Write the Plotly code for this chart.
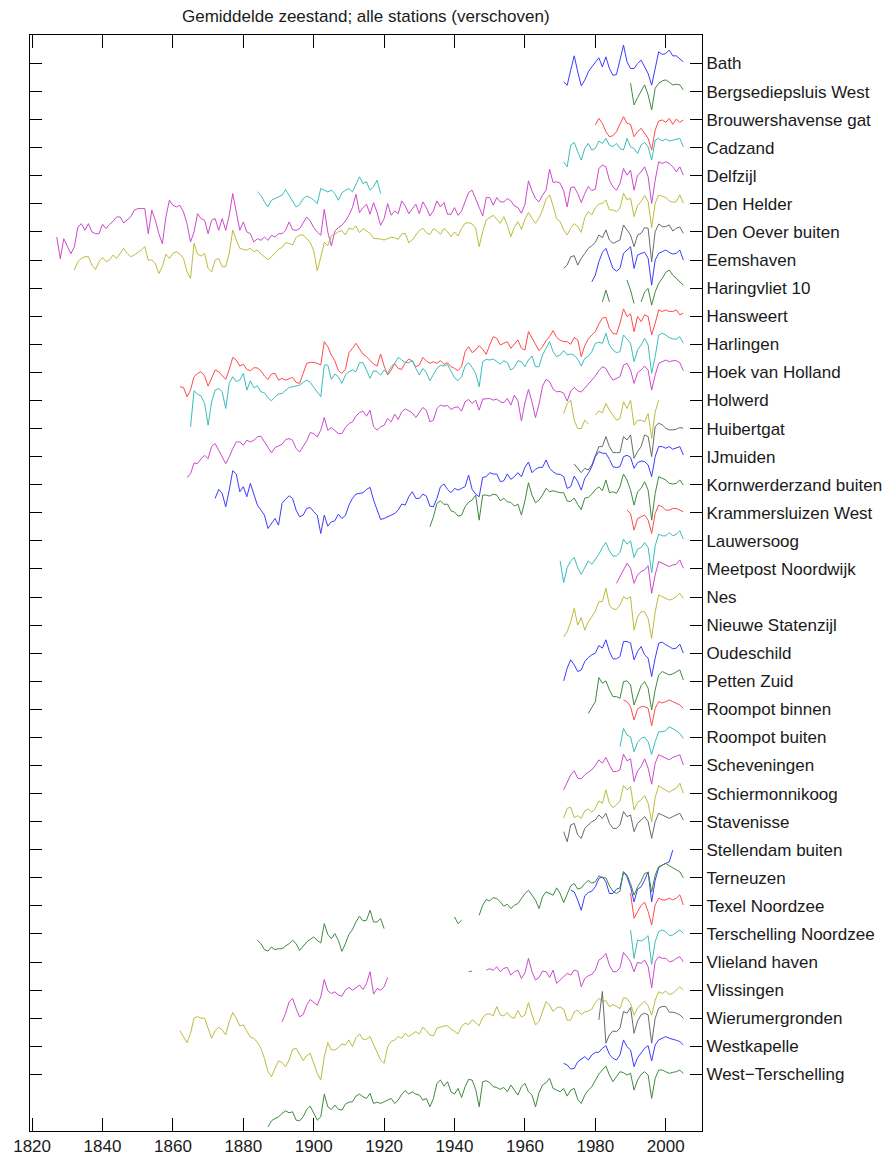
import plotly.graph_objects as go

# Station names, top to bottom
stations = [
    "Bath", "Bergsediepsluis West", "Brouwershavense gat", "Cadzand", "Delfzijl",
    "Den Helder", "Den Oever buiten", "Eemshaven", "Haringvliet 10", "Hansweert",
    "Harlingen", "Hoek van Holland", "Holwerd", "Huibertgat", "IJmuiden",
    "Kornwerderzand buiten", "Krammersluizen West", "Lauwersoog", "Meetpost Noordwijk",
    "Nes", "Nieuwe Statenzijl", "Oudeschild", "Petten Zuid", "Roompot binnen",
    "Roompot buiten", "Scheveningen", "Schiermonnikoog", "Stavenisse",
    "Stellendam buiten", "Terneuzen", "Texel Noordzee", "Terschelling Noordzee",
    "Vlieland haven", "Vlissingen", "Wierumergronden", "Westkapelle", "West\u2212Terschelling",
]

# Annual mean sea level per station (mm), each list starts at the given year
bath = [-55, -65, -20, 23, -25, -67, -50, -25, -10, 5, 17, -10, 20, -15, -35, -33, 10, 55, 5, -15,
        -15, 0, 10, -10, -30, -65, -15, 35, 27, 30, 40, 23, 23, 13, 5]
bath_start = 1971

bergsediepsluis = [25, -40, -18, 0, 20, -10, -55, 10, 25, 32, 35, 28, 20, 22, 20, 5]
bergsediepsluis_start = 1990

brouwershavense = [-16, 4, -11, -36, -51, -48, -36, -11, 9, -11, -14, -51, -36, -26, -41, -56, -91,
                   -31, -4, -1, -8, 4, -14, 2, -8, -1]
brouwershavense_start = 1980

cadzand_early = [-132, -142, -162, -177, -157, -152, -147, -142, -125, -142, -162, -177, -170, -152,
                 -145, -149, -157, -167, -122, -127, -132, -127, -137, -157, -135, -127, -122, -132,
                 -107, -87, -107, -102, -127, -117, -97, -137]
cadzand_early_start = 1884
cadzand = [-42, -57, 8, 16, -12, -37, -2, 13, -7, -2, 20, 13, 28, 8, 3, 13, -2, -7, 28, 3, -2, -17,
           8, 16, 3, -37, 23, 28, 20, 26, 20, 23, 26, 28, 3]
cadzand_start = 1971

delfzijl = [
    -183, -248, -188, -213, -233, -213, -153, -143, -163, -143, -168, -173, -173, -145, -158, -145,
    -136, -123, -123, -141, -133, -123, -103, -98, -98, -98, -173, -103, -133, -173, -203, -123, -73,
    -88, -93, -88, -108, -143, -198, -168, -113, -128, -133, -173, -133, -128, -163, -128, -163, -118,
    -53, -113, -163, -138, -168, -173, -198, -188, -193, -183, -193, -178, -183, -173, -173, -163,
    -138, -161, -163,
    -158, -140, -123, -135, -155, -168, -178, -100, -168, -210,
    -165, -155, -148, -135, -118, -95, -55, -110, -95, -85, -115, -80, -110, -148, -128, -83, -118,
    -105, -113, -75, -90, -113, -98, -85, -113, -78, -95, -120, -105, -75, -93, -80, -115, -115, -95,
    -118, -105, -80, -50, -43, -70, -95, -120, -65, -65, -88, -65, -78, -78, -68, -75, -90, -95, -112,
    -85, -15, -45, -68, -78, -58, -43, 20, -20, -18,
    -22, -45, -93, -35, -33, -53, -80, -53, -32, -44, -40,
    22, 32, 27, -13, -33, -43, -23, 22, 2, 17, -43, 2, 12, 27, -3, -83, -13, 42, 37, 42, 37, 27, 12,
    27, 2]
delfzijl_start = 1827

den_helder = [
    -198, -173, -163, -158, -158, -183, -196, -173, -160, -173, -168, -153, -163, -148, -133, -148,
    -158, -153, -146, -138, -128, -168, -168, -178, -208, -188, -150, -163, -148, -143, -150, -163,
    -203, -223, -118, -150, -156, -148, -193, -203, -168, -163, -188, -188, -148, -78, -108, -133,
    -136, -138, -133, -143, -138, -150, -158, -166, -158, -146, -136, -130, -116, -118, -123, -100,
    -93, -93,
    -105, -115, -140, -200, -160, -115, -125, -95,
    -91, -83, -80, -93, -73, -76, -66, -86, -74, -80, -88, -103, -103, -105, -108, -104, -100, -101,
    -106, -90, -88, -116, -108, -93, -80, -73, -86, -92, -74, -80, -91, -73, -83, -98, -84, -96, -73,
    -58, -56, -60, -73, -128, -83, -48, -42, -34, -46, -58, -38, -64, -98, -70, -53, -76, -46, -26,
    -43, -58, -43, -18, 14, 27, -6, -44,
    -53, -78, -93, -73, -59, -68, -85, -41, -23, -33, -11, -1, 2, 12, -18, -18, -23, -13, 32, 12, 17,
    -38, -5, 7, 25, 7, -71, 2, 27, 22, 19, 9, 5, 7, 27, 2]
den_helder_start = 1832

den_oever = [-109, -99, -74, -71, -99, -79, -64, -49, -41, -31, -9, -17, 6, -24, -34, -29, -24, 21, 6,
             -9, -44, -9, -4, 13, 11, -89, 1, 24, 16, 16, 21, 3, 11, 15, -4]
den_oever_start = 1971

eemshaven = [-65, -45, -5, 23, 35, 7, -25, -33, -25, 20, 30, 40, -25, 15, 20, 23, 5, -75, 0, 20, 25,
             30, 23, 18, 20, 30, 0]
eemshaven_start = 1979

haringvliet_a = [-41, -6, -41]
haringvliet_a_start = 1982
haringvliet_b = [24, -6, -46]
haringvliet_b_start = 1989
haringvliet_c = [-41, -11, -1, -51, -11, 14, 29, 47, 54, 39, 29, 19, 9]
haringvliet_c_start = 1993

hansweert = [
    -211, -213, -241, -221, -181, -171, -166, -179, -209, -183, -161, -166, -176, -189, -159, -123,
    -131, -149, -144, -159, -163, -154, -155, -163, -179, -189, -173, -171, -191, -186, -191, -186,
    -183, -198, -201, -171, -141, -138, -138, -141, -146, -76, -91, -116, -133, -163, -171, -159,
    -109, -96, -81, -98, -113, -121, -131, -143, -149, -113, -149, -176, -161, -141, -156, -159,
    -139, -128, -134, -151, -146,
    -123, -134, -141, -136, -141, -133, -144, -139, -151, -156, -163, -151, -106, -91, -109, -101,
    -88, -99, -114, -86, -61, -66, -86, -81, -76, -96, -83, -71, -96, -101, -46, -66, -86, -103, -91,
    -73, -61, -43,
    -63, -72, -76, -76, -84, -64, -71, -121, -88, -68, -56, -46, -23, -6, -3, -36, -51, -54, -21, 22,
    -1, 7, -46, -1, -16, 4, -1, -56, -21, 19, 14, 19, 14, 14, 19, 4, 9]
hansweert_start = 1862

harlingen = [
    -247, -139, -149, -155, -177, -242, -172, -137, -132, -142, -192, -117, -97, -112, -107, -87,
    -137, -109, -130, -124, -142, -145, -160, -169, -157, -149, -147, -137, -129, -127, -125, -122,
    -114, -107, -114, -129, -142, -157, -62, -62, -105, -89, -97, -117, -92, -82, -77, -82, -55, -55,
    -77, -102, -79, -82, -92, -77, -87, -67, -57, -39, -47, -54, -55, -49, -72, -92,
    -72, -85, -109, -89, -72, -63, -65, -60, -82, -100, -109, -97, -65, -55, -69, -87, -127, -52, -45,
    -47, -44, -52, -59, -49, -55, -77, -69, -49, -52, -67, -47, -35, -67, -67, -32, -12, 8, -22,
    -37, -32, -19, -32, -29, -33, -45, -65, -42, -36, -22, 3, 6, 3, 33, -2, -17, -25, -22, 28, 15, 3,
    -52, -17, -2, 18, -2, -87, -37, 28, 33, 28, 20, 16, 15, 23, 3]
harlingen_start = 1865

hoek_van_holland = [
    -315, -303, -271, -273, -258, -248, -258, -221, -213, -235, -253, -273, -253, -228, -208, -208,
    -218, -203, -208, -203, -193, -191, -208, -228, -241, -225, -221, -215, -201, -198, -203, -228,
    -238, -221, -205, -180, -183, -193, -173, -135, -173, -165, -175, -183, -183, -165, -153, -148,
    -131, -120, -116, -131, -113, -163, -173, -163, -158, -138, -148, -125, -141, -118, -109, -115,
    -121, -135, -118,
    -105, -113, -148, -143, -108, -98, -101, -99, -111, -105, -103, -116, -88, -81, -93, -83, -113,
    -80, -79, -78, -83, -80, -88, -91, -78, -98, -68, -85, -145, -91, -51, -88, -135, -95, -41, -21,
    -28, -50,
    -58, -57, -62, -86, -56, -45, -55, -59, -47, -36, -24, -11, 5, 17, 12, -8, -23, -18, -13, 22, 27,
    7, -33, -1, 7, 19, 7, -53, -8, 27, 32, 37, 32, 35, 35, 29, 5]
hoek_van_holland_start = 1864

holwerd_a = [-39, -9, 1, -59, -84, -84, -59, -71]
holwerd_a_start = 1971
holwerd_b = [-44, -31, -37, -9, -29, -44, -59, -54, -4, -24, 1, -74, -59, -59, -64, -39, -114, -34, 1]
holwerd_b_start = 1980

huibertgat = [-106, -119, -132, -119, -124, -109, -79, -54, -54, -24, -54, -72, -72, -72, -24, -34,
              -19, -89, -69, -54, -19, -24, -84, 6, 16, 11, 1, -4, -4, -2, 3, 1]
huibertgat_start = 1974

ijmuiden = [
    -125, -98, -110, -150, -100, -42, -52, -105, -90, -120, -80, -115, -145, -160, -175, -215, -198,
    -185, -205, -140, -128, -117, -125, -160, -180, -175, -155, -152, -165, -175, -230, -175, -208,
    -195, -192, -172, -185, -176, -145, -125, -112, -110, -108, -98, -92, -130, -160, -188, -185,
    -180, -175, -170, -160, -142, -145, -120, -105, -125, -125,
    -112, -118, -148, -150, -125, -90, -82, -98, -108, -95, -100, -95, -90, -55, -98, -112, -120, -62,
    -60, -48, -52, -52, -75, -72, -52, -68, -60, -48, -60, -32, -16, -48, -38, -32, -32, -10, -35, -45,
    -52, -53, -60, -95, -90, -58, -75, -100, -65, -50, -30, 0, 15, 10, 10, -8, -30, -33, -30, 0, 4, -2,
    -35, -18, -13, -15, -25, -60, 0, 30, 30, 25, 30, 22, 25, 30, 5]
ijmuiden_start = 1872

kornwerderzand = [
    -126, -96, -56, -48, -59, -58, -78, -82, -94, -91, -66, -52, -46, -31, -106, -31, -31, -34, -28,
    -31, -48, -41, -51, -53, -64, -58, -91, -48, 6, -31, -54, -46, -31, -11, -21, -18,
    -21, -24, -24, -49, -50, -40, -59, -75, -40, -38, -28, -15, -6, -18, 14, -24, -21, -26, -6, 32, 14,
    -16, -61, -21, -11, 9, -16, -106, -26, 24, 19, 14, 4, 2, 4, 14, -1]
kornwerderzand_start = 1933

krammersluizen = [8, -2, -52, -17, -12, -7, -22, -62, -2, 23, 18, 8, 8, 13, 13, 8, 3]
krammersluizen_start = 1989

lauwersoog = [-60, -125, -80, -60, -50, -80, -100, -80, -60, -70, -55, -40, -20, -5, -30, -45, -45,
              -35, 5, -10, 0, -50, -25, -20, -5, -20, -95, -15, 20, 15, 15, 25, 15, 20, 30, 5]
lauwersoog_start = 1970

meetpost_noordwijk = [-43, -23, -6, 17, 2, -43, -18, -8, -3, 10, -73, -18, 22, 17, 12, 7, 12, 14, 27, 2]
meetpost_noordwijk_start = 1986

nes = [-119, -104, -74, -34, -84, -62, -99, -74, -59, -42, -14, -14, 26, -24, -36, -37, -24, 1, -6, 1,
       -99, -59, -44, -44, -64, -124, -44, 6, 1, -4, -9, -6, 1, 11, -4]
nes_start = 1971

oudeschild = [-83, -45, -20, -35, -55, -50, -25, -13, -5, 0, 23, 15, 40, 5, -17, -17, -10, 35, 35, 30,
              -20, 5, 20, -5, -15, -70, -15, 30, 33, 25, 20, 13, 15, 27, 0]
oudeschild_start = 1971

petten_zuid = [-96, -79, -61, 11, -6, 1, -26, -46, -46, -51, -1, 1, -11, -71, -41, -13, -1, -21, -86,
               -26, 19, 29, 24, 19, 22, 27, 34, 4]
petten_zuid_start = 1978

roompot_binnen = [28, 23, 8, -32, 1, 8, 8, 3, -49, 3, 23, 19, 23, 28, 23, 18, 13, 3]
roompot_binnen_start = 1988

roompot_buiten = [-28, 27, 7, 2, -43, -15, -3, 1, -13, -51, -13, 17, 17, 20, 32, 27, 20, 12, -3]
roompot_buiten_start = 1987

scheveningen = [-73, -48, -28, -16, -38, -40, -28, -20, -13, 0, 17, 7, 24, 2, -18, -18, -13, 34, 14,
                20, -48, -16, -3, 20, -8, -56, 7, 32, 27, 22, 17, 24, 29, 32, 2]
scheveningen_start = 1971

schiermonnikoog = [-74, -44, -41, -72, -66, -74, -52, -46, -56, -44, -22, -29, 11, -29, -42, -34, -22,
                   24, 11, 21, -49, -26, -19, -6, -29, -84, -12, 24, 16, 11, 4, 11, 16, 31, 1]
schiermonnikoog_start = 1971

stavenisse = [-30, -60, -10, -5, -40, -50, -20, -10, 0, 5, 20, 10, 25, -5, -20, -20, -10, 30, 15, 20,
              -30, -5, 5, 15, 0, -50, 0, 25, 20, 15, 10, 15, 20, 25, 5]
stavenisse_start = 1971

stellendam = [-121, -126, -151, -181, -138, -128, -124, -111, -86, -81, -96, -131, -131, -118, -114,
              -66, -81, -111, -156, -118, -111, -91, -66, -156, -91, -54, -46, -41, -36, -1]
stellendam_start = 1973

terneuzen_a = [-187, -197, -215, -219, -207, -215, -212, -212, -204, -197, -187, -197, -217, -205,
               -192, -184, -177, -187, -195, -137, -169, -182, -167, -187, -220, -197, -169, -155,
               -132, -115, -129, -127, -97, -132, -132, -122, -152]
terneuzen_a_start = 1884
terneuzen_b = [-117, -137, -127]
terneuzen_b_start = 1940
terneuzen_c = [-112, -82, -65, -69, -59, -62, -72, -85, -79, -92, -82, -77, -62, -47, -37, -52, -67,
               -92, -57, -42, -47, -52,
               -30, -47, -74, -47, -24, -17, -34, -30, -17, -8, -16, -12, 6, 0, 0, -24, -40, -47, -40,
               18, 8, -17, -52, -27, -10, 13, 16, -42, 8, 33, 38, 43, 36, 30, 26, 18, 0]
terneuzen_c_start = 1947

texel_noordzee = [38, -37, -17, 1, 11, -17, -57, 3, 23, 18, 18, 23, 18, 23, 33, 3]
texel_noordzee_start = 1990

terschelling_noordzee = [12, -73, -18, -21, -15, -5, -91, -23, 7, 12, 7, -5, -3, 5, 12, 2]
terschelling_noordzee_start = 1990

vlieland_a = [-179, -154, -119, -109, -139, -164, -157, -129, -112, -121, -129, -104, -52, -86, -94,
              -89, -99, -102, -84, -76, -84, -77, -69, -82, -64, -29, -96, -79, -84, -74, -46]
vlieland_a_start = 1891
vlieland_b = [-29, -27]
vlieland_b_start = 1944
vlieland_c = [-24, -20, -24, -14, -29, -19, -16, -39, -29, -24, -49, -32, 11, -29, -54, -46, -27, -29,
              -46, -24,
              -64, -54, -44, -34, -39, -24, -27, -74, -49, -41, -37, -24, 6, 13, 26, -9, -29, -29, -17,
              29, 16, 1, -29, -1, -4, 6, -14, -77, 1, 16, 11, 11, 1, 3, 11, 16, 1]
vlieland_c_start = 1949

vlissingen = [
    -121, -139, -157, -129, -84, -79, -84, -84, -117, -144, -121, -111, -119, -134, -94, -67, -84,
    -107, -104, -124, -141, -144, -157, -174, -204, -244, -259, -234, -211, -217, -229, -209, -177,
    -174, -194, -211, -196, -189, -219, -249, -269, -199, -157, -179, -179, -172, -161, -164, -149,
    -169, -142, -131, -147, -147, -139, -164, -187, -209, -219, -169, -154, -149, -139, -144, -129,
    -139, -131, -124, -131,
    -111, -121, -134, -137, -114, -111, -107, -107, -117, -123, -131, -109, -99, -103, -89, -96, -107,
    -81, -72, -71, -77, -49, -74, -77, -67, -81, -84, -61, -81, -74, -37, -74, -104, -94, -61, -34,
    -44, -64,
    -53, -50, -57, -90, -90, -65, -60, -73, -65, -63, -57, -37, -25, -33, -32, -50, -43, -50, -55, -23,
    -25, -40, -75, -53, -43, -33, -47, -75, -30, -5, -10, -3, -13, -10, 0, 10, 0]
vlissingen_start = 1862

wierumergronden = [-5, 80, -75, -50, -38, -40, -30, 20, 15, 32, -45, -8, 10, 15, 10, -75, 0, 30, 35, 35,
                   18, 18, 15, 10, 0]
wierumergronden_start = 1981

westkapelle = [-51, -56, -68, -66, -46, -38, -31, -41, -26, -18, -18, -6, 2, -24, -36, -41, -26, 19, -1,
               -11, -61, -34, -21, -6, 2, -44, 4, 19, 24, 29, 24, 22, 18, 14, 4]
westkapelle_start = 1971

west_terschelling = [
    -157, -139, -132, -127, -117, -109, -115, -112, -137, -139, -127, -105, -95, -115, -137, -127, -59,
    -97, -105, -92, -104, -107, -89, -83, -82, -65, -59, -67, -72, -57, -87, -83, -87, -82, -77, -72,
    -87, -77, -59, -49, -59, -52, -59, -62,
    -77, -72, -97, -72, -27, -17, -35, -22, -52, -59, -42, -69, -37, -15, -17, -45, -97, -22, -19, -25,
    -37, -39, -45, -39, -52, -32, -47, -62, -37, -27, -52, -62, -97, -55, -32, -25, -12, -42, -47, -52,
    -42, -65, -47, -42, -75, -87, -62, -47, -37, -17, 1, 13, 25, -2, -22, -7, 8, 5, -2,
    3, -47, -17, 0, 8, -2, -72, -12, 13, 13, 8, 3, 6, 8, 13, 3]
west_terschelling_start = 1887

# Segments per station, in the same order as the station names
segments = [
    [(bath_start, bath)],
    [(bergsediepsluis_start, bergsediepsluis)],
    [(brouwershavense_start, brouwershavense)],
    [(cadzand_early_start, cadzand_early), (cadzand_start, cadzand)],
    [(delfzijl_start, delfzijl)],
    [(den_helder_start, den_helder)],
    [(den_oever_start, den_oever)],
    [(eemshaven_start, eemshaven)],
    [(haringvliet_a_start, haringvliet_a), (haringvliet_b_start, haringvliet_b),
     (haringvliet_c_start, haringvliet_c)],
    [(hansweert_start, hansweert)],
    [(harlingen_start, harlingen)],
    [(hoek_van_holland_start, hoek_van_holland)],
    [(holwerd_a_start, holwerd_a), (holwerd_b_start, holwerd_b)],
    [(huibertgat_start, huibertgat)],
    [(ijmuiden_start, ijmuiden)],
    [(kornwerderzand_start, kornwerderzand)],
    [(krammersluizen_start, krammersluizen)],
    [(lauwersoog_start, lauwersoog)],
    [(meetpost_noordwijk_start, meetpost_noordwijk)],
    [(nes_start, nes)],
    [],
    [(oudeschild_start, oudeschild)],
    [(petten_zuid_start, petten_zuid)],
    [(roompot_binnen_start, roompot_binnen)],
    [(roompot_buiten_start, roompot_buiten)],
    [(scheveningen_start, scheveningen)],
    [(schiermonnikoog_start, schiermonnikoog)],
    [(stavenisse_start, stavenisse)],
    [(stellendam_start, stellendam)],
    [(terneuzen_a_start, terneuzen_a), (terneuzen_b_start, terneuzen_b),
     (terneuzen_c_start, terneuzen_c)],
    [(texel_noordzee_start, texel_noordzee)],
    [(terschelling_noordzee_start, terschelling_noordzee)],
    [(vlieland_a_start, vlieland_a), (vlieland_b_start, vlieland_b), (vlieland_c_start, vlieland_c)],
    [(vlissingen_start, vlissingen)],
    [(wierumergronden_start, wierumergronden)],
    [(westkapelle_start, westkapelle)],
    [(west_terschelling_start, west_terschelling)],
]

palette = ["#3c3cff", "#3f8a3f", "#ff4a4a", "#3cbcbc", "#cc4acc", "#bcbc3c", "#6a6a6a"]
shift = 84          # vertical shift between stations (mm)
years_ticks = list(range(1820, 2001, 20))

fig = go.Figure()
for i, (name, segs) in enumerate(zip(stations, segments)):
    xs, ys = [], []
    for start, vals in segs:
        if xs:
            xs.append(None)
            ys.append(None)
        xs.extend(range(start, start + len(vals)))
        ys.extend(v - shift * i for v in vals)
    fig.add_trace(go.Scatter(
        x=xs, y=ys, mode="lines", name=name, connectgaps=False,
        line=dict(color=palette[i % len(palette)], width=1),
        hoverinfo="skip",
    ))

font = dict(family="Liberation Sans, Arial, sans-serif", size=17, color="#1a1a1a")

fig.update_layout(
    width=883, height=1155,
    margin=dict(l=30, r=181, t=35, b=24, autoexpand=False),
    paper_bgcolor="white", plot_bgcolor="white",
    showlegend=False,
    font=font,
    xaxis=dict(
        range=[1819.4, 2010.3], tickvals=years_ticks, ticktext=[str(y) for y in years_ticks],
        ticks="inside", ticklen=13, tickwidth=1, tickcolor="black",
        showline=True, linecolor="black", linewidth=1, mirror="ticks",
        showgrid=False, zeroline=False, tickfont=font, automargin=False,
    ),
    yaxis=dict(
        range=[-3193.4, 85.3], side="right",
        tickvals=[-shift * i for i in range(len(stations))], ticktext=stations,
        ticks="inside", ticklen=12, tickwidth=1, tickcolor="black",
        showline=True, linecolor="black", linewidth=1, mirror="ticks",
        showgrid=False, zeroline=False, tickfont=font, automargin=False,
    ),
    annotations=[dict(
        text="Gemiddelde zeestand; alle stations (verschoven)",
        xref="paper", yref="paper", x=0.5, y=1 + 18 / 1096, xanchor="center", yanchor="middle",
        showarrow=False, font=font,
    )],
)

fig.write_html("out.html")
